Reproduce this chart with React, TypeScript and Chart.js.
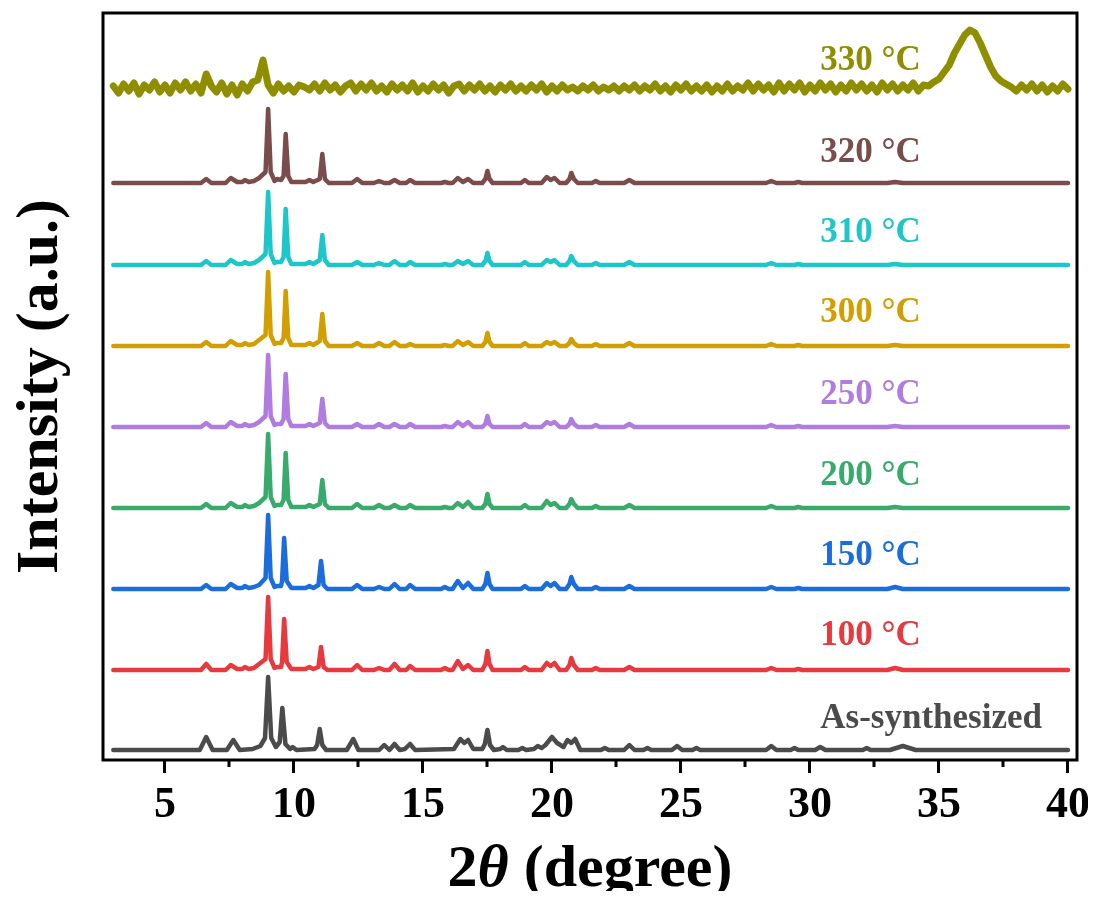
import { useEffect, useRef } from "react";
import { Chart, registerables } from "chart.js";

Chart.register(...registerables);

// ---------- data ----------
const X_MIN = 2.6;
const X_MAX = 40.35;
const Y_MIN = 0;
const Y_MAX = 747;
const MAJOR_TICKS = [5, 10, 15, 20, 25, 30, 35, 40];
const MINOR_TICKS = [7.5, 12.5, 17.5, 22.5, 27.5, 32.5, 37.5];

const SERIES_NAMES = ["As-synthesized", "100 °C", "150 °C", "200 °C", "250 °C", "300 °C", "310 °C", "320 °C", "330 °C"];
const SERIES_COLORS = ["#4b4b4b", "#e8393f", "#1c6ddc", "#38ab6c", "#b07ce0", "#d29e00", "#1cc6c9", "#7b4c4c", "#8e8e00"];
const SERIES_OFFSETS = [10, 90, 171, 252, 333, 414, 495, 577, 672];
const LABEL_X = 30.4;
const LABEL_DY = [31, 34, 33, 32, 32, 33, 32, 30, 27];

type P = [number, number];

const AS_SYNTH: P[] = [[3,0],[6.35,0],[6.6,13],[6.85,0],[7.4,0],[7.65,10],[7.9,0],[8.4,1],[8.7,4],[8.88,12],[9.0,73],[9.12,12],[9.3,3],[9.45,8],[9.55,42],[9.67,6],[9.85,1],[9.95,3],[10.1,0],[10.8,1],[10.9,5],[11.0,21],[11.1,5],[11.25,0],[12.05,0],[12.3,11],[12.5,0],[13.3,0],[13.5,5],[13.7,0],[13.9,6],[14.1,0],[14.3,1],[14.5,6],[14.7,0],[16.2,1],[16.45,11],[16.6,7],[16.75,10],[16.95,1],[17.3,1],[17.4,6],[17.5,20],[17.6,5],[17.75,0],[18.0,1],[18.1,3],[18.25,0],[18.7,0],[18.85,2],[19.0,0],[19.3,1],[19.45,4],[19.6,2],[19.75,5],[20.0,13],[20.2,7],[20.45,3],[20.6,10],[20.75,7],[20.9,11],[21.1,0],[21.9,0],[22.05,2],[22.2,0],[22.8,0],[23.0,5],[23.2,0],[23.55,0],[23.7,2],[23.85,0],[24.65,0],[24.85,4],[25.05,0],[25.45,0],[25.6,2],[25.75,0],[28.3,0],[28.5,4],[28.7,0],[29.25,0],[29.4,2],[29.55,0],[30.2,0],[30.4,3],[30.6,0],[32.05,0],[32.2,2],[32.35,0],[33.1,0],[33.6,4],[34.1,0],[40,0]];

const T100: P[] = [[3,0],[6.4,0],[6.6,6],[6.8,0],[7.35,0],[7.55,5],[7.8,1],[8.0,1],[8.1,3],[8.25,1],[8.45,2],[8.65,6],[8.9,11],[9.0,73],[9.1,11],[9.25,2],[9.35,3],[9.5,3],[9.54,8],[9.62,51],[9.72,8],[9.9,1],[10.45,1],[10.6,3],[10.75,1],[10.95,3],[11.05,23],[11.15,3],[11.3,0],[12.25,0],[12.45,5],[12.65,0],[13.1,0],[13.3,2],[13.5,0],[13.7,0],[13.9,6],[14.1,0],[14.35,0],[14.5,4],[14.7,0],[15.7,0],[15.85,2],[16.0,0],[16.15,0],[16.35,9],[16.55,1],[16.75,5],[16.95,0],[17.3,0],[17.42,6],[17.5,19],[17.58,6],[17.7,0],[18.8,0],[18.95,3],[19.1,0],[19.6,0],[19.8,7],[19.95,4],[20.1,7],[20.3,0],[20.55,0],[20.68,5],[20.75,12],[20.85,5],[21.0,0],[21.55,0],[21.7,2],[21.85,0],[22.8,0],[23.0,3],[23.2,0],[28.3,0],[28.5,2],[28.7,0],[29.4,0],[29.55,1],[29.7,0],[33.0,0],[33.3,2],[33.6,0],[40,0]];

const T150: P[] = [[3,0],[6.4,0],[6.6,4],[6.8,0],[7.35,0],[7.55,5],[7.8,1],[8.0,1],[8.1,3],[8.25,1],[8.45,2],[8.65,4],[8.9,11],[9.0,74],[9.1,11],[9.25,2],[9.35,3],[9.5,3],[9.54,8],[9.62,51],[9.72,8],[9.9,1],[10.45,1],[10.6,3],[10.75,1],[10.95,4],[11.05,28],[11.15,4],[11.3,0],[12.25,0],[12.45,4],[12.65,0],[13.1,0],[13.3,2],[13.5,0],[13.7,0],[13.9,5],[14.1,0],[14.35,0],[14.5,4],[14.7,0],[15.7,0],[15.85,2],[16.0,0],[16.15,0],[16.35,8],[16.55,1],[16.75,6],[16.95,0],[17.3,0],[17.42,5],[17.5,16],[17.58,5],[17.7,0],[18.8,0],[18.95,3],[19.1,0],[19.6,0],[19.8,6],[19.95,3],[20.1,6],[20.3,0],[20.55,0],[20.68,5],[20.75,12],[20.85,5],[21.0,0],[21.55,0],[21.7,2],[21.85,0],[22.8,0],[23.0,3],[23.2,0],[28.3,0],[28.5,2],[28.7,0],[29.4,0],[29.55,1],[29.7,0],[33.0,0],[33.3,2],[33.6,0],[40,0]];

const T200: P[] = [[3,0],[6.4,0],[6.6,4],[6.8,0],[7.35,0],[7.55,5],[7.8,1],[8.0,1],[8.1,3],[8.25,1],[8.45,2],[8.65,5],[8.9,11],[9.0,74],[9.1,11],[9.25,2],[9.35,3],[9.5,3],[9.6,8],[9.68,55],[9.78,8],[9.9,1],[10.45,1],[10.6,3],[10.75,1],[11.0,4],[11.1,28],[11.2,4],[11.35,0],[12.25,0],[12.45,4],[12.65,0],[13.1,0],[13.3,3],[13.5,0],[13.7,0],[13.9,3],[14.1,0],[14.35,0],[14.5,3],[14.7,0],[15.7,0],[15.85,1],[16.0,0],[16.15,0],[16.35,5],[16.55,1],[16.75,6],[16.95,0],[17.3,0],[17.42,4],[17.5,14],[17.58,4],[17.7,0],[18.8,0],[18.95,3],[19.1,0],[19.6,0],[19.8,7],[19.95,3],[20.1,5],[20.3,0],[20.55,0],[20.68,4],[20.75,9],[20.85,4],[21.0,0],[21.55,0],[21.7,2],[21.85,0],[22.8,0],[23.0,3],[23.2,0],[28.3,0],[28.5,2],[28.7,0],[29.4,0],[29.55,1],[29.7,0],[33.0,0],[33.3,1],[33.6,0],[40,0]];

const T250: P[] = [[3,0],[6.4,0],[6.6,4],[6.8,0],[7.35,0],[7.55,5],[7.8,1],[8.0,1],[8.1,3],[8.25,1],[8.45,2],[8.65,5],[8.9,11],[9.0,72],[9.1,11],[9.25,2],[9.35,3],[9.5,3],[9.6,8],[9.68,53],[9.78,8],[9.9,1],[10.45,1],[10.6,3],[10.75,1],[11.0,4],[11.1,28],[11.2,4],[11.35,0],[12.25,0],[12.45,3],[12.65,0],[13.1,0],[13.3,3],[13.5,0],[13.7,0],[13.9,3],[14.1,0],[14.35,0],[14.5,3],[14.7,0],[15.7,0],[15.85,1],[16.0,0],[16.15,0],[16.35,5],[16.55,1],[16.75,5],[16.95,0],[17.3,0],[17.42,3],[17.5,11],[17.58,3],[17.7,0],[18.8,0],[18.95,3],[19.1,0],[19.6,0],[19.8,5],[19.95,3],[20.1,5],[20.3,0],[20.55,0],[20.68,3],[20.75,8],[20.85,3],[21.0,0],[21.55,0],[21.7,2],[21.85,0],[22.8,0],[23.0,3],[23.2,0],[28.3,0],[28.5,2],[28.7,0],[29.4,0],[29.55,1],[29.7,0],[33.0,0],[33.3,1],[33.6,0],[40,0]];

const T300: P[] = [[3,0],[6.4,0],[6.6,4],[6.8,0],[7.35,0],[7.55,5],[7.8,1],[8.0,1],[8.1,3],[8.25,1],[8.45,2],[8.65,6],[8.9,11],[9.0,74],[9.1,11],[9.25,2],[9.35,3],[9.5,3],[9.6,8],[9.68,55],[9.78,8],[9.9,1],[10.45,1],[10.6,3],[10.75,1],[11.0,5],[11.1,32],[11.2,5],[11.35,0],[12.25,0],[12.45,3],[12.65,0],[13.1,0],[13.3,3],[13.5,0],[13.7,0],[13.9,4],[14.1,0],[14.35,0],[14.5,2],[14.7,0],[15.7,0],[15.85,1],[16.0,0],[16.15,0],[16.35,5],[16.55,1],[16.75,4],[16.95,0],[17.3,0],[17.42,4],[17.5,13],[17.58,4],[17.7,0],[18.8,0],[18.95,3],[19.1,0],[19.6,0],[19.8,4],[19.95,2],[20.1,4],[20.3,0],[20.55,0],[20.68,3],[20.75,7],[20.85,3],[21.0,0],[21.55,0],[21.7,2],[21.85,0],[22.8,0],[23.0,3],[23.2,0],[28.3,0],[28.5,2],[28.7,0],[29.4,0],[29.55,1],[29.7,0],[33.0,0],[33.3,1],[33.6,0],[40,0]];

const T310: P[] = [[3,0],[6.4,0],[6.6,4],[6.8,0],[7.35,0],[7.55,5],[7.8,1],[8.0,1],[8.1,3],[8.25,1],[8.45,2],[8.65,5],[8.9,11],[9.0,73],[9.1,11],[9.25,2],[9.35,3],[9.5,3],[9.6,8],[9.68,56],[9.78,8],[9.9,1],[10.45,1],[10.6,3],[10.75,1],[11.0,5],[11.1,30],[11.2,5],[11.35,0],[12.25,0],[12.45,3],[12.65,0],[13.1,0],[13.3,2],[13.5,0],[13.7,0],[13.9,4],[14.1,0],[14.35,0],[14.5,3],[14.7,0],[15.7,0],[15.85,1],[16.0,0],[16.15,0],[16.35,4],[16.55,1],[16.75,4],[16.95,0],[17.3,0],[17.42,4],[17.5,12],[17.58,4],[17.7,0],[18.8,0],[18.95,3],[19.1,0],[19.6,0],[19.8,5],[19.95,3],[20.1,5],[20.3,0],[20.55,0],[20.68,4],[20.75,9],[20.85,4],[21.0,0],[21.55,0],[21.7,2],[21.85,0],[22.8,0],[23.0,3],[23.2,0],[28.3,0],[28.5,2],[28.7,0],[29.4,0],[29.55,1],[29.7,0],[33.0,0],[33.3,1],[33.6,0],[40,0]];

const T320: P[] = [[3,0],[6.4,0],[6.6,4],[6.8,0],[7.35,0],[7.55,5],[7.8,1],[8.0,1],[8.1,3],[8.25,1],[8.45,2],[8.65,5],[8.9,11],[9.0,74],[9.1,11],[9.25,2],[9.35,4],[9.5,3],[9.6,7],[9.68,49],[9.78,7],[9.9,1],[10.45,1],[10.6,3],[10.75,1],[11.0,4],[11.1,29],[11.2,4],[11.35,0],[12.25,0],[12.45,4],[12.65,0],[13.1,0],[13.3,2],[13.5,0],[13.7,0],[13.9,3],[14.1,0],[14.35,0],[14.5,3],[14.7,0],[15.7,0],[15.85,1],[16.0,0],[16.15,0],[16.35,5],[16.55,1],[16.75,4],[16.95,0],[17.3,0],[17.42,4],[17.5,12],[17.58,4],[17.7,0],[18.8,0],[18.95,3],[19.1,0],[19.6,0],[19.8,6],[19.95,3],[20.1,5],[20.3,0],[20.55,0],[20.68,4],[20.75,10],[20.85,4],[21.0,0],[21.55,0],[21.7,2],[21.85,0],[22.8,0],[23.0,3],[23.2,0],[28.3,0],[28.5,2],[28.7,0],[29.4,0],[29.55,1],[29.7,0],[33.0,0],[33.3,1],[33.6,0],[40,0]];

const X_330 = [
  3.0,3.2,3.4,3.6,3.8,4.0,4.2,4.4,4.6,4.8,
  5.0,5.2,5.4,5.6,5.8,6.0,6.2,6.4,6.6,6.8,
  7.0,7.2,7.4,7.6,7.8,8.0,8.2,8.4,8.6,8.8,
  9.0,9.2,9.4,9.6,9.8,10.0,10.2,10.4,10.6,10.8,
  11.0,11.2,11.4,11.6,11.8,12.0,12.2,12.4,12.6,12.8,
  13.0,13.2,13.4,13.6,13.8,14.0,14.2,14.4,14.6,14.8,
  15.0,15.2,15.4,15.6,15.8,16.0,16.2,16.4,16.6,16.8,
  17.0,17.2,17.4,17.6,17.8,18.0,18.2,18.4,18.6,18.8,
  19.0,19.2,19.4,19.6,19.8,20.0,20.2,20.4,20.6,20.8,
  21.0,21.2,21.4,21.6,21.8,22.0,22.2,22.4,22.6,22.8,
  23.0,23.2,23.4,23.6,23.8,24.0,24.2,24.4,24.6,24.8,
  25.0,25.2,25.4,25.6,25.8,26.0,26.2,26.4,26.6,26.8,
  27.0,27.2,27.4,27.6,27.8,28.0,28.2,28.4,28.6,28.8,
  29.0,29.2,29.4,29.6,29.8,30.0,30.2,30.4,30.6,30.8,
  31.0,31.2,31.4,31.6,31.8,32.0,32.2,32.4,32.6,32.8,
  33.0,33.2,33.4,33.6,33.8,34.0,34.2,34.4,34.6,34.8,
  35.0,35.2,35.4,35.6,35.8,36.0,36.2,36.4,36.6,36.8,
  37.0,37.2,37.4,37.6,37.8,38.0,38.2,38.4,38.6,38.8,
  39.0,39.2,39.4,39.6,39.8,40.0,
];
const Y_330 = [
  2,-5,4,-3,5,-6,3,-2,6,-4,
  3,-5,5,-2,6,-3,4,-5,14,2,
  -4,5,-6,3,-7,4,-3,6,8,28,
  3,-5,4,-3,2,-4,3,1,-2,4,
  -3,5,-2,3,-4,2,5,-3,4,-2,
  5,-3,2,-4,4,-2,3,-3,5,-4,
  2,-3,4,-2,3,-5,2,4,-3,3,
  -2,4,-3,2,-4,3,-2,4,-3,2,
  -3,3,-2,4,-4,2,-3,3,-2,1,
  -3,2,-2,3,-3,1,-2,2,-3,2,
  -2,3,-3,2,-2,4,-3,2,-4,3,
  -2,4,-3,2,-3,3,-4,2,-3,4,
  -3,2,-2,5,-3,4,-2,3,-4,5,
  -3,4,-2,5,-4,3,-3,5,-2,4,
  -4,3,-3,5,-2,4,-3,3,-4,5,
  -2,4,-3,3,-2,5,-3,3,2,6,
  9,16,23,35,44,53,58,55,45,33,
  21,12,7,4,1,-3,3,-2,4,-3,
  3,-4,2,-3,4,-1,
];

const T330: P[] = X_330.map((x, i) => [x, Y_330[i]]);
const SERIES: P[][] = [AS_SYNTH, T100, T150, T200, T250, T300, T310, T320, T330];

// ---------- layout constants ----------
const W = 1080;
const H = 883;
const SERIF = "'Liberation Serif', 'Times New Roman', serif";

const decorPlugin = {
  id: "decor",
  afterDraw(chart: any) {
    const { ctx, chartArea } = chart;
    const xs = chart.scales.x;
    const ys = chart.scales.y;
    ctx.save();
    ctx.strokeStyle = "#000";
    ctx.lineWidth = 3;
    ctx.strokeRect(chartArea.left, chartArea.top, chartArea.right - chartArea.left, chartArea.bottom - chartArea.top);
    MINOR_TICKS.forEach((v) => {
      const px = Math.round(xs.getPixelForValue(v));
      ctx.beginPath();
      ctx.moveTo(px, chartArea.bottom);
      ctx.lineTo(px, chartArea.bottom + 7);
      ctx.stroke();
    });
    ctx.font = `bold 35px ${SERIF}`;
    ctx.textAlign = "left";
    ctx.textBaseline = "middle";
    SERIES_NAMES.forEach((name, i) => {
      ctx.fillStyle = SERIES_COLORS[i];
      ctx.fillText(name, xs.getPixelForValue(LABEL_X), ys.getPixelForValue(SERIES_OFFSETS[i] + LABEL_DY[i]));
    });
    const cx = (chartArea.left + chartArea.right) / 2;
    const ty = 862;
    const fN = `bold 60px ${SERIF}`;
    const fI = `italic bold 60px ${SERIF}`;
    const parts: [string, string][] = [["2", fN], ["θ", fI], [" (degree)", fN]];
    let total = 0;
    parts.forEach(([t, f]) => { ctx.font = f; total += ctx.measureText(t).width; });
    let x = cx - total / 2;
    ctx.fillStyle = "#000";
    ctx.textBaseline = "middle";
    parts.forEach(([t, f]) => { ctx.font = f; ctx.fillText(t, x, ty); x += ctx.measureText(t).width; });
    ctx.restore();
  },
};

export default function App() {
  const ref = useRef<HTMLCanvasElement | null>(null);
  useEffect(() => {
    if (!ref.current) return;
    const datasets = SERIES.map((pts, i) => ({
      label: SERIES_NAMES[i],
      data: pts.map(([x, y]) => ({ x, y: y + SERIES_OFFSETS[i] })),
      borderColor: SERIES_COLORS[i],
      backgroundColor: SERIES_COLORS[i],
      borderWidth: i === 8 ? 7 : 4.5,
      pointRadius: 0,
      tension: 0,
      borderJoinStyle: "round" as const,
      borderCapStyle: "round" as const,
    }));
    const chart = new Chart(ref.current, {
      type: "line",
      data: { datasets },
      options: {
        animation: false,
        responsive: false,
        events: [],
        layout: { padding: { top: 5, right: 11, left: 0, bottom: 0 } },
        plugins: { legend: { display: false }, tooltip: { enabled: false } },
        scales: {
          x: {
            type: "linear",
            min: X_MIN,
            max: X_MAX,
            afterBuildTicks: (s: any) => { s.ticks = MAJOR_TICKS.map((v) => ({ value: v })); },
            afterFit: (s: any) => { s.height = H - 752; s.paddingLeft = 0; s.paddingRight = 0; },
            ticks: {
              autoSkip: false,
              maxRotation: 0,
              padding: 6,
              color: "#000",
              font: { family: SERIF, weight: "bold", size: 44 },
              callback: (v: any) => String(v),
            },
            grid: { drawOnChartArea: false, drawTicks: true, tickLength: 13, tickWidth: 3, tickColor: "#000" },
            border: { display: false },
          },
          y: {
            min: Y_MIN,
            max: Y_MAX,
            afterFit: (s: any) => { s.width = 95; s.paddingTop = 0; s.paddingBottom = 0; },
            ticks: { display: false },
            grid: { display: false },
            border: { display: false },
            title: {
              display: true,
              text: "Intensity (a.u.)",
              color: "#000",
              font: { family: SERIF, weight: "bold", size: 60, lineHeight: 1 },
              padding: { top: 3, bottom: 0 },
            },
          },
        },
      },
      plugins: [decorPlugin],
    });
    return () => chart.destroy();
  }, []);
  return (
    <div style={{ width: W, height: H }}>
      <canvas ref={ref} width={W} height={H} />
    </div>
  );
}
